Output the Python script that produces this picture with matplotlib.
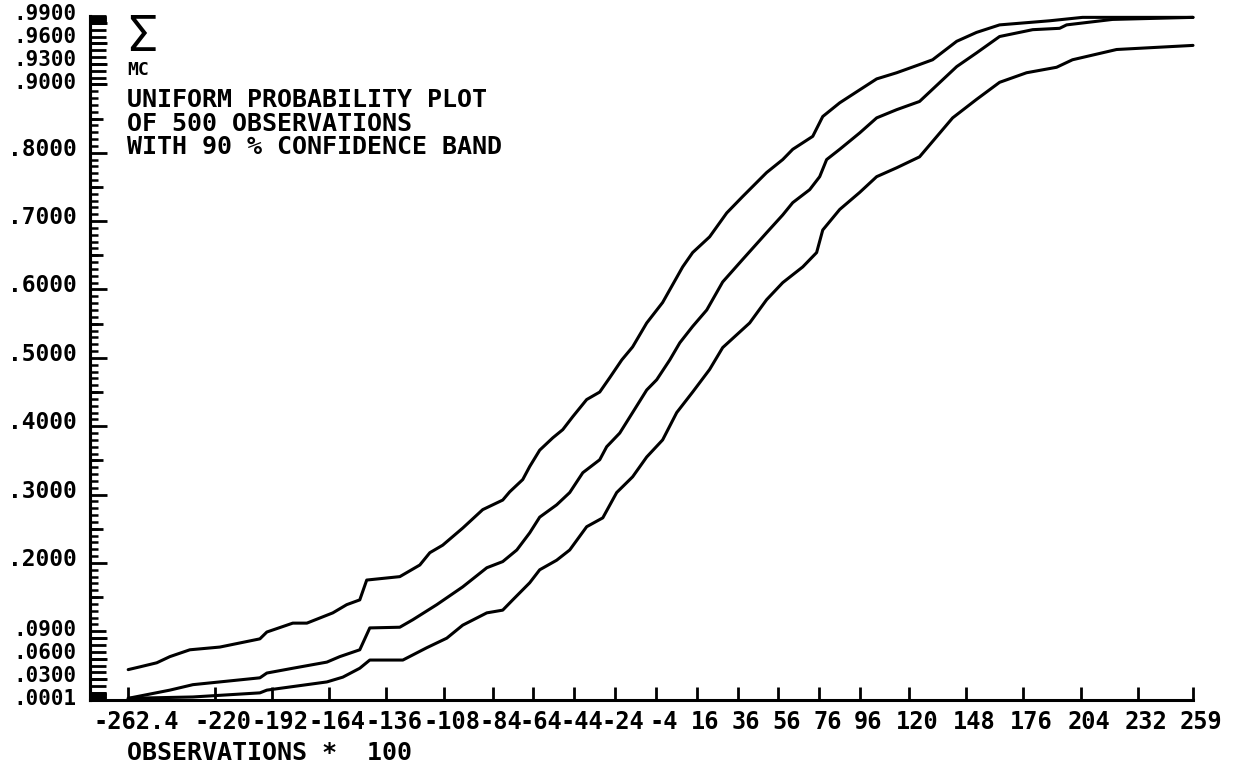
import numpy as np
import matplotlib
matplotlib.use("Agg")
import matplotlib.pyplot as plt
from matplotlib.transforms import ScaledTranslation

x_mid = [-262.4, -242.0, -230.7, -197.9, -194.5, -181.8, -165.1, -158.8, -149.0, -144.1,
         -129.4, -123.0, -111.3, -98.6, -86.8, -79.0, -72.1, -65.8, -60.9, -52.6,
         -46.2, -39.8, -31.5, -28.1, -21.7, -15.4, -8.5, -3.6, 2.8, 7.7,
         14.0, 20.9, 28.7, 38.5, 50.2, 58.1, 63.0, 71.3, 76.2, 79.6,
         86.0, 95.8, 104.1, 113.9, 125.1, 143.3, 153.0, 164.3, 180.5, 193.7,
         197.1, 219.6, 259.0]
p_mid = [0.002, 0.014, 0.022, 0.032, 0.039, 0.046, 0.055, 0.063, 0.073, 0.105,
         0.106, 0.117, 0.139, 0.165, 0.193, 0.202, 0.219, 0.244, 0.267, 0.285,
         0.303, 0.332, 0.351, 0.370, 0.390, 0.420, 0.453, 0.468, 0.497, 0.522,
         0.546, 0.570, 0.611, 0.644, 0.683, 0.709, 0.727, 0.746, 0.765, 0.790,
         0.805, 0.829, 0.851, 0.863, 0.875, 0.926, 0.946, 0.970, 0.980, 0.982,
         0.987, 0.995, 0.998]

x_up = [-262.4, -256.7, -248.4, -242.0, -232.2, -217.5, -197.9, -194.5, -181.8, -174.9,
        -162.2, -155.4, -149.0, -145.6, -129.4, -119.6, -114.7, -108.4, -98.6, -88.8,
        -79.0, -75.6, -69.2, -65.8, -60.9, -54.5, -49.6, -44.7, -37.9, -31.5,
        -26.6, -20.7, -15.4, -8.5, -0.7, 9.1, 14.0, 22.3, 30.7, 38.5,
        50.2, 58.1, 63.0, 72.8, 77.7, 86.0, 95.8, 104.1, 113.9, 125.1,
        131.5, 143.3, 153.0, 164.3, 188.8, 204.9, 259.0]
p_up = [0.044, 0.048, 0.054, 0.063, 0.073, 0.077, 0.089, 0.099, 0.112, 0.112,
        0.127, 0.139, 0.146, 0.175, 0.180, 0.197, 0.215, 0.226, 0.251, 0.278,
        0.292, 0.304, 0.322, 0.341, 0.365, 0.383, 0.395, 0.414, 0.439, 0.450,
        0.471, 0.497, 0.516, 0.551, 0.581, 0.633, 0.654, 0.677, 0.712, 0.736,
        0.771, 0.790, 0.805, 0.824, 0.853, 0.873, 0.892, 0.908, 0.917, 0.929,
        0.936, 0.963, 0.976, 0.987, 0.993, 0.998, 0.998]

x_lo = [-262.4, -230.7, -197.9, -194.5, -165.1, -157.3, -149.0, -144.1, -127.9, -116.2,
        -106.4, -98.6, -86.8, -79.0, -74.1, -65.8, -60.9, -52.6, -46.2, -37.9,
        -30.0, -23.2, -15.4, -8.5, -0.7, 6.2, 14.0, 22.3, 28.7, 41.9,
        50.2, 58.1, 67.9, 74.7, 77.7, 86.0, 95.8, 104.1, 113.9, 125.1,
        141.3, 153.0, 164.3, 177.5, 192.2, 200.0, 221.6, 259.0]
p_lo = [0.002, 0.004, 0.010, 0.014, 0.026, 0.033, 0.046, 0.058, 0.058, 0.076,
        0.090, 0.109, 0.127, 0.131, 0.146, 0.171, 0.190, 0.204, 0.219, 0.253,
        0.266, 0.303, 0.326, 0.355, 0.380, 0.420, 0.450, 0.483, 0.515, 0.551,
        0.585, 0.610, 0.633, 0.654, 0.687, 0.717, 0.742, 0.765, 0.778, 0.794,
        0.851, 0.878, 0.903, 0.917, 0.925, 0.936, 0.951, 0.957]

x_ticks = [-262.4, -220, -192, -164, -136, -108, -84, -64, -44, -24, -4,
           16, 36, 56, 76, 96, 120, 148, 176, 204, 232, 259]
x_labels = ["-262.4", "-220", "-192", "-164", "-136", "-108", "-84", "-64", "-44",
            "-24", "-4", "16", "36", "56", "76", "96", "120", "148", "176", "204",
            "232", "259"]
y_ticks = [0.0001, 0.03, 0.06, 0.09, 0.2, 0.3, 0.4, 0.5, 0.6, 0.7, 0.8,
           0.9, 0.93, 0.96, 0.99]
y_labels = [".0001", ".0300", ".0600", ".0900", ".2000", ".3000", ".4000", ".5000",
            ".6000", ".7000", ".8000", ".9000", ".9300", ".9600", ".9900"]

# crowded labels at both ends are pushed apart (pixels, upward) like on the plotter output
label_nudge = {".0001": 2.6, ".0300": 5.2, ".0600": 7.7, ".0900": 10.2,
               ".9000": 3.4, ".9300": 5.9, ".9600": 8.3, ".9900": 10.8}

plt.rcParams['font.family'] = 'DejaVu Sans Mono'
plt.rcParams['font.weight'] = 'bold'

fig = plt.figure(figsize=(12.34, 7.67), dpi=100)
ax = fig.add_axes([90 / 1234, 67.3 / 767, 1103 / 1234, 683.7 / 767])

for xs, ps in [(x_up, p_up), (x_mid, p_mid), (x_lo, p_lo)]:
    ax.plot(xs, ps, color='black', lw=2.2, solid_joinstyle='round',
            solid_capstyle='round', clip_on=False)

ax.set_xlim(-281.1, 259.0)
ax.set_ylim(0, 1.0)
for side in ['top', 'right']:
    ax.spines[side].set_visible(False)
for side in ['left', 'bottom']:
    ax.spines[side].set_linewidth(2.2)

ax.set_xticks(x_ticks, labels=x_labels)
ax.tick_params(axis='x', direction='in', length=9.4, width=2, pad=7.5, labelsize=17)

# y ticks: labelled ones, 0.01 minors, 0.05 mids, dense ticks near both ends
ax.set_yticks(y_ticks, labels=y_labels)
minor = [v for v in np.round(np.arange(0.11, 0.90, 0.01), 2)]
ax.set_yticks(minor, minor=True)
ax.tick_params(axis='y', which='major', direction='in', length=12.2, width=2,
               pad=9.4, labelsize=16.5)
ax.tick_params(axis='y', which='minor', direction='in', length=5.8, width=1.8)

sec = ax.secondary_yaxis('left')
mids = np.round(np.arange(0.15, 0.90, 0.1), 2)
ends = np.concatenate([np.arange(0.0, 0.0101, 0.001), np.arange(0.01, 0.1001, 0.01),
                       np.arange(0.90, 0.9801, 0.01), np.arange(0.99, 1.0001, 0.001)])
sec.set_yticks(mids)
sec.set_yticks(ends, minor=True)
sec.tick_params(which='major', direction='in', length=9.4, width=2, labelleft=False)
sec.tick_params(which='minor', direction='in', length=11.5, width=2, labelleft=False)
sec.spines['left'].set_linewidth(2.2)

shift_x = ScaledTranslation(8 / 100, 0, fig.dpi_scale_trans)
for lab in ax.get_xticklabels():
    lab.set_transform(lab.get_transform() + shift_x)
for lab in ax.get_yticklabels():
    nudge = label_nudge.get(lab.get_text(), 6)
    if lab.get_text() in label_nudge:
        lab.set_fontsize(15)
    lab.set_transform(lab.get_transform()
                      + ScaledTranslation(0, nudge / 100, fig.dpi_scale_trans))

# header block
fig.text(127 / 1234, 1 - 37 / 767, "Σ", fontsize=36, fontweight='normal',
         ha='left', va='center')
fig.text(127 / 1234, 1 - 70 / 767, "MC", fontsize=13, ha='left', va='center')
fig.text(127 / 1234, 1 - 100 / 767, "UNIFORM PROBABILITY PLOT", fontsize=18,
         ha='left', va='center')
fig.text(127 / 1234, 1 - 124 / 767, "OF 500 OBSERVATIONS", fontsize=18,
         ha='left', va='center')
fig.text(127 / 1234, 1 - 147 / 767, "WITH 90 % CONFIDENCE BAND", fontsize=18,
         ha='left', va='center')

fig.text(127 / 1234, 1 - 753 / 767, "OBSERVATIONS *  100", fontsize=18,
         ha='left', va='center')

fig.savefig("out.png", dpi=100)
